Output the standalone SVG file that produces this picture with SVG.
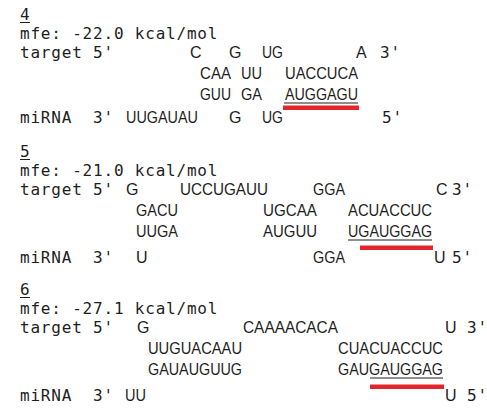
<svg xmlns="http://www.w3.org/2000/svg" width="487" height="416" viewBox="0 0 487 416">
<style>
.m{font-family:"DejaVu Sans Mono",monospace;font-size:16px;letter-spacing:0.8px;fill:#1e1e1e}
.s{font-family:"Liberation Sans",Arial,sans-serif;font-size:16px;fill:#1e1e1e}
.ul{stroke:#1e1e1e;stroke-width:1}
.red{fill:#e3262b}
</style>
<rect width="487" height="416" fill="#ffffff"/>
<g id="block4">
<text class="m" x="20" y="20">4</text><line class="ul" x1="20" y1="22.5" x2="30" y2="22.5"/>
<text class="m" x="20" y="38.5">mfe: -22.0 kcal/mol</text>
<text class="m" x="20" y="58">target 5'</text>
<text class="s" x="190" y="58">C</text><text class="s" x="229" y="58">G</text><text class="s" x="262" y="58" textLength="21" lengthAdjust="spacingAndGlyphs">UG</text><text class="s" x="356" y="58">A</text>
<text class="m" x="380" y="58">3'</text>
<text class="s" x="200" y="79" textLength="31" lengthAdjust="spacingAndGlyphs">CAA</text><text class="s" x="241" y="79" textLength="21" lengthAdjust="spacingAndGlyphs">UU</text><text class="s" x="285" y="79" textLength="73" lengthAdjust="spacingAndGlyphs">UACCUCA</text>
<text class="s" x="200" y="100" textLength="31" lengthAdjust="spacingAndGlyphs">GUU</text><text class="s" x="241" y="100" textLength="21" lengthAdjust="spacingAndGlyphs">GA</text><text class="s" x="285" y="100" textLength="73" lengthAdjust="spacingAndGlyphs">AUGGAGU</text>
<line class="ul" x1="284" y1="103" x2="358" y2="103"/>
<rect class="red" x="283" y="105.5" width="76" height="4.5"/>
<text class="m" x="20" y="123">miRNA</text><text class="m" x="93" y="123">3'</text>
<text class="s" x="126" y="123" textLength="72" lengthAdjust="spacingAndGlyphs">UUGAUAU</text><text class="s" x="229" y="123">G</text><text class="s" x="262" y="123" textLength="21" lengthAdjust="spacingAndGlyphs">UG</text>
<text class="m" x="382" y="123">5'</text>
</g>
<g id="block5">
<text class="m" x="20" y="157">5</text><line class="ul" x1="20" y1="159.5" x2="30" y2="159.5"/>
<text class="m" x="20" y="175.5">mfe: -21.0 kcal/mol</text>
<text class="m" x="20" y="195">target 5'</text>
<text class="s" x="126" y="195">G</text><text class="s" x="180" y="195" textLength="88" lengthAdjust="spacingAndGlyphs">UCCUGAUU</text><text class="s" x="313" y="195" textLength="32" lengthAdjust="spacingAndGlyphs">GGA</text><text class="s" x="436" y="195">C</text>
<text class="m" x="452" y="195">3'</text>
<text class="s" x="136" y="216" textLength="42" lengthAdjust="spacingAndGlyphs">GACU</text><text class="s" x="263" y="216" textLength="54" lengthAdjust="spacingAndGlyphs">UGCAA</text><text class="s" x="348" y="216" textLength="84" lengthAdjust="spacingAndGlyphs">ACUACCUC</text>
<text class="s" x="136" y="237" textLength="42" lengthAdjust="spacingAndGlyphs">UUGA</text><text class="s" x="263" y="237" textLength="54" lengthAdjust="spacingAndGlyphs">AUGUU</text><text class="s" x="348" y="237" textLength="84" lengthAdjust="spacingAndGlyphs">UGAUGGAG</text>
<line class="ul" x1="348" y1="240" x2="432" y2="240"/>
<rect class="red" x="360" y="245.5" width="73" height="4.5"/>
<text class="m" x="20" y="263">miRNA</text><text class="m" x="93" y="263">3'</text>
<text class="s" x="136" y="263">U</text><text class="s" x="313" y="263" textLength="32" lengthAdjust="spacingAndGlyphs">GGA</text><text class="s" x="434" y="263">U</text>
<text class="m" x="452" y="263">5'</text>
</g>
<g id="block6">
<text class="m" x="20" y="295">6</text><line class="ul" x1="20" y1="297.5" x2="30" y2="297.5"/>
<text class="m" x="20" y="313.5">mfe: -27.1 kcal/mol</text>
<text class="m" x="20" y="333">target 5'</text>
<text class="s" x="137" y="333">G</text><text class="s" x="243" y="333" textLength="95" lengthAdjust="spacingAndGlyphs">CAAAACACA</text><text class="s" x="445" y="333">U</text>
<text class="m" x="467" y="333">3'</text>
<text class="s" x="148" y="354" textLength="94" lengthAdjust="spacingAndGlyphs">UUGUACAAU</text><text class="s" x="338" y="354" textLength="105" lengthAdjust="spacingAndGlyphs">CUACUACCUC</text>
<text class="s" x="148" y="375" textLength="94" lengthAdjust="spacingAndGlyphs">GAUAUGUUG</text><text class="s" x="338" y="375" textLength="105" lengthAdjust="spacingAndGlyphs">GAUGAUGGAG</text>
<line class="ul" x1="370" y1="378" x2="443" y2="378"/>
<rect class="red" x="370" y="384.5" width="74" height="4.5"/>
<text class="m" x="20" y="401">miRNA</text><text class="m" x="93" y="401">3'</text>
<text class="s" x="125" y="401" textLength="21" lengthAdjust="spacingAndGlyphs">UU</text><text class="s" x="445" y="401">U</text>
<text class="m" x="467" y="401">5'</text>
</g>
</svg>
